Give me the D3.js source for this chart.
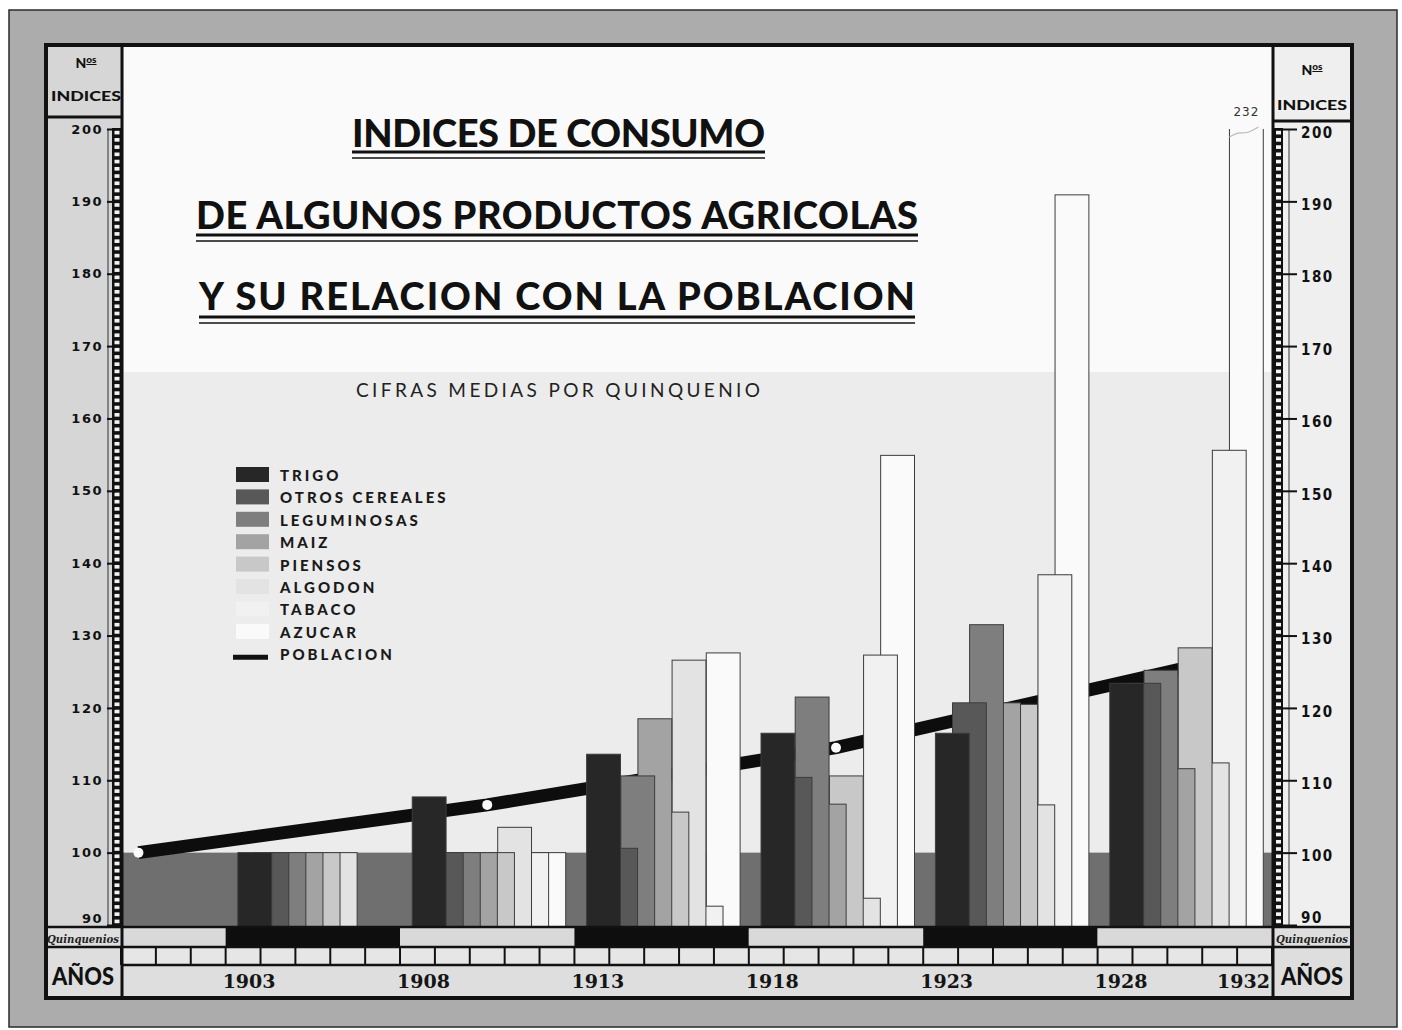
<!DOCTYPE html>
<html>
<head>
<meta charset="utf-8">
<script src="https://cdn.jsdelivr.net/npm/d3@7"></script>
<style>
  body { margin: 0; background: #fff; }
  svg { display: block; }
</style>
</head>
<body>
<svg id="chart" width="1402" height="1030"></svg>
<script>
// ---- Data: consumption indices, five-year averages (base = 100) ----
const products = ["TRIGO", "OTROS CEREALES", "LEGUMINOSAS", "MAIZ", "PIENSOS", "ALGODON", "TABACO", "AZUCAR"];
const quinquenios = [1903, 1908, 1913, 1918, 1923, 1928];
const trigo         = [100, 107.7, 113.6, 116.5, 116.5, 123.4];
const otrosCereales = [100, 100,   100.6, 110.4, 120.7, 123.4];
const leguminosas   = [100, 100,   110.6, 121.5, 131.5, 125.2];
const maiz          = [100, 100,   118.5, 106.7, 120.7, 111.6];
const piensos       = [100, 100,   105.6, 110.6, 120.5, 128.3];
const algodon       = [100, 103.5, 126.6,  93.7, 106.6, 112.4];
const tabaco        = [null, 100,   92.6, 127.3, 138.4, 155.6];
const azucar        = [null, 100,  127.6, 154.9, 190.9, 232];
// Population index at the census years
const censusYears = [1900, 1910, 1920, 1930];
const poblacion   = [100, 106.6, 114.5, 125.5];
const yTicks = [90, 100, 110, 120, 130, 140, 150, 160, 170, 180, 190, 200];
const yearLabels = ["1903", "1908", "1913", "1918", "1923", "1928", "1932"];
const titleLines = ["INDICES DE CONSUMO", "DE ALGUNOS PRODUCTOS AGRICOLAS", "Y SU RELACION CON LA POBLACION"];
const subtitle = "CIFRAS MEDIAS POR QUINQUENIO";

// ---- Styling ----
const productFill = ["#272727", "#585858", "#7e7e7e", "#a3a3a3", "#c8c8c8", "#e3e3e3", "#f1f1f1", "#fafafa"];
const series = [trigo, otrosCereales, leguminosas, maiz, piensos, algodon, tabaco, azucar];
const decoFont = "Lato, 'Open Sans', sans-serif";

const svg = d3.select("#chart");
const W = 1402, H = 1030;
const board = { l: 46, t: 45, r: 1352, b: 998 };
const rowQ = { t: 927, b: 947 }, rowY = { t: 947, b: 965 };

const x = d3.scaleLinear().domain([1900, 1933]).range([121, 1272]);
const y = d3.scaleLinear().domain([90, 200]).range([925, 129]);

// ---- Mat and board ----
svg.append("rect").attr("width", W).attr("height", H).attr("fill", "#fff");
svg.append("rect").attr("x", 9).attr("y", 10).attr("width", 1388).attr("height", 1017)
  .attr("fill", "#acacac").attr("stroke", "#2a2a2a").attr("stroke-width", 1.5);
svg.append("rect").attr("x", board.l).attr("y", board.t)
  .attr("width", board.r - board.l).attr("height", board.b - board.t).attr("fill", "#ececec");
svg.append("rect").attr("x", 124).attr("y", board.t).attr("width", 1148).attr("height", 327).attr("fill", "#fafafa");
svg.append("rect").attr("x", board.l).attr("y", board.t).attr("width", 76).attr("height", rowQ.t - board.t).attr("fill", "#d6d6d6");
svg.append("rect").attr("x", 1273).attr("y", board.t).attr("width", board.r - 1273).attr("height", rowQ.t - board.t).attr("fill", "#efefef");

// ---- Title block ----
const titleGeom = [
  { x0: 352, x1: 765, base: 147, u: 152 },
  { x0: 196, x1: 918, base: 229, u: 235 },
  { x0: 199, x1: 915, base: 310, u: 317 }
];
titleLines.forEach((t, i) => {
  const g = titleGeom[i];
  svg.append("text").attr("x", g.x0).attr("y", g.base)
    .attr("textLength", g.x1 - g.x0).attr("lengthAdjust", "spacing")
    .attr("font-family", decoFont).attr("font-weight", 900).attr("font-size", 38)
    .attr("fill", "#111").text(t);
  svg.append("line").attr("x1", g.x0).attr("x2", g.x1).attr("y1", g.u).attr("y2", g.u)
    .attr("stroke", "#111").attr("stroke-width", 3);
  svg.append("line").attr("x1", g.x0).attr("x2", g.x1).attr("y1", g.u + 6).attr("y2", g.u + 6)
    .attr("stroke", "#111").attr("stroke-width", 1.5);
});
svg.append("text").attr("x", 356).attr("y", 397)
  .attr("textLength", 404).attr("lengthAdjust", "spacing")
  .attr("font-family", decoFont).attr("font-weight", 400).attr("font-size", 19)
  .attr("fill", "#222").text(subtitle);

// ---- Plot marks ----
const clipId = "plotClip";
svg.append("clipPath").attr("id", clipId).append("rect")
  .attr("x", x(1900)).attr("y", y(200)).attr("width", x(1933) - x(1900)).attr("height", y(90) - y(200) + 2);
const plot = svg.append("g").attr("clip-path", `url(#${clipId})`);

// base-100 band running under all groups
plot.append("rect").attr("x", x(1900)).attr("width", x(1933) - x(1900))
  .attr("y", y(100)).attr("height", y(90) - y(100) + 2).attr("fill", "#6f6f6f");

// population line with census dots
const popPts = censusYears.map((yr, i) => [x(yr + 0.5), y(poblacion[i])]);
plot.append("path").attr("d", d3.line()(popPts))
  .attr("fill", "none").attr("stroke", "#0d0d0d").attr("stroke-width", 13);
plot.selectAll("circle.census").data(popPts).join("circle").attr("class", "census")
  .attr("cx", d => d[0]).attr("cy", d => d[1]).attr("r", 5).attr("fill", "#fafafa");

// staggered bars: each one year wide, half a year apart, earlier products in front
const barStart = 0.35, barStep = 0.49, barWidth = 0.97;
const bars = [];
quinquenios.forEach((q, qi) => {
  series.forEach((s, pi) => { if (s[qi] != null) bars.push({ q, pi, v: s[qi] }); });
});
bars.sort((a, b) => b.pi - a.pi);
plot.selectAll("rect.bar").data(bars).join("rect").attr("class", "bar")
  .attr("x", d => x(d.q + barStart + d.pi * barStep))
  .attr("width", d => x(d.q + barWidth) - x(d.q))
  .attr("y", d => y(d.v))
  .attr("height", d => y(90) - y(d.v) + 2)
  .attr("fill", d => productFill[d.pi])
  .attr("stroke", "#3c3c3c").attr("stroke-width", 1);

// values beyond the scale: label above the top
const over = bars.filter(d => d.v > 200);
over.forEach(d => {
  const cx = x(d.q + barStart + d.pi * barStep) + (x(d.q + barWidth) - x(d.q)) / 2;
  svg.append("text").attr("x", cx).attr("y", y(200) - 13).attr("text-anchor", "middle")
    .attr("font-family", "'DejaVu Sans', sans-serif").attr("font-size", 12).attr("letter-spacing", 1)
    .attr("fill", "#333").text(d3.format("d")(d.v));
  svg.append("path")
    .attr("d", d3.line().curve(d3.curveBasis)([[cx - 17, y(200) + 8], [cx - 8, y(200) + 3], [cx, y(200) + 5], [cx + 12, y(200) - 2]]))
    .attr("fill", "none").attr("stroke", "#bbb").attr("stroke-width", 1.2);
});

// ---- Legend ----
const legend = svg.append("g").attr("transform", "translate(236,475)");
const legendItems = products.map((p, i) => ({ name: p, i })).concat([{ name: "POBLACION", i: products.length }]);
const lg = legend.selectAll("g").data(legendItems).join("g")
  .attr("transform", d => `translate(0,${d.i * 22.4})`);
lg.filter(d => d.i < products.length).append("rect")
  .attr("x", 0).attr("y", -8).attr("width", 33).attr("height", 15)
  .attr("fill", d => productFill[d.i]);
lg.filter(d => d.i === products.length).append("line")
  .attr("x1", -3).attr("x2", 32).attr("y1", 3).attr("y2", 3)
  .attr("stroke", "#111").attr("stroke-width", 5);
lg.append("text").attr("x", 44).attr("y", 6)
  .attr("font-family", decoFont).attr("font-weight", 900).attr("font-size", 15)
  .attr("letter-spacing", 3).attr("fill", "#1a1a1a").text(d => d.name);

// ---- Bottom: quinquenios and years ----
const segStarts = [1900].concat(quinquenios);
const segs = segStarts.map((s, i) => ({ s, e: i < segStarts.length - 1 ? segStarts[i + 1] : 1933, dark: i % 2 === 1 }));
svg.append("rect").attr("x", board.l).attr("y", rowQ.t).attr("width", board.r - board.l).attr("height", board.b - rowQ.t).attr("fill", "#dedede");
svg.selectAll("rect.seg").data(segs).join("rect").attr("class", "seg")
  .attr("x", d => x(d.s)).attr("width", d => x(d.e) - x(d.s))
  .attr("y", rowQ.t).attr("height", rowQ.b - rowQ.t)
  .attr("fill", d => d.dark ? "#0e0e0e" : "#d9d9d9");
svg.append("rect").attr("x", x(1900)).attr("y", rowY.t).attr("width", x(1933) - x(1900)).attr("height", rowY.b - rowY.t).attr("fill", "#e6e6e6");
svg.selectAll("line.yr").data(d3.range(1900, 1934)).join("line").attr("class", "yr")
  .attr("x1", d => x(d)).attr("x2", d => x(d)).attr("y1", rowY.t).attr("y2", rowY.b)
  .attr("stroke", "#111").attr("stroke-width", 2);
[[board.l, board.r, rowQ.t], [board.l, board.r, rowY.t], [x(1900), x(1933), rowY.b]].forEach(([a, b, yy]) =>
  svg.append("line").attr("x1", a).attr("x2", b).attr("y1", yy).attr("y2", yy).attr("stroke", "#111").attr("stroke-width", 2.5));
[122, 1273].forEach(xx =>
  svg.append("line").attr("x1", xx).attr("x2", xx).attr("y1", board.t).attr("y2", board.b).attr("stroke", "#111").attr("stroke-width", 3));

svg.selectAll("text.year").data(yearLabels).join("text").attr("class", "year")
  .attr("x", d => (+d === 1932 ? x(1933) - 2 : x(+d) - 3))
  .attr("text-anchor", d => (+d === 1932 ? "end" : "start"))
  .attr("y", 988)
  .attr("font-family", "'DejaVu Serif', 'Liberation Serif', serif").attr("font-weight", 700).attr("font-size", 19)
  .attr("fill", "#151515").text(d => d);

[[83], [1312]].forEach(([cx]) => {
  svg.append("text").attr("x", cx).attr("y", 943).attr("text-anchor", "middle")
    .attr("textLength", 72).attr("lengthAdjust", "spacingAndGlyphs")
    .attr("font-family", "'DejaVu Serif', serif").attr("font-style", "italic").attr("font-weight", 700)
    .attr("font-size", 11).attr("fill", "#222").text("Quinquenios");
  svg.append("text").attr("x", cx).attr("y", 985).attr("text-anchor", "middle")
    .attr("textLength", 62).attr("lengthAdjust", "spacingAndGlyphs")
    .attr("font-family", decoFont).attr("font-weight", 900).attr("font-size", 25)
    .attr("fill", "#111").text("AÑOS");
});

// ---- Left ruler and axis ----
svg.append("line").attr("x1", 108).attr("x2", 108).attr("y1", y(200)).attr("y2", y(90))
  .attr("stroke", "#333").attr("stroke-width", 1);
svg.append("rect").attr("x", 112).attr("y", y(200) - 1).attr("width", 10).attr("height", y(90) - y(200) + 2).attr("fill", "#111");
svg.selectAll("rect.winL").data(d3.range(90, 200)).join("rect").attr("class", "winL")
  .attr("x", 114.5).attr("width", 5)
  .attr("y", d => y(d + 1) + 1.8).attr("height", d => y(d) - y(d + 1) - 3.6).attr("fill", "#f2f2f2");
svg.append("g").attr("transform", "translate(116,0)")
  .call(d3.axisLeft(y).tickValues(yTicks).tickSize(9).tickPadding(4))
  .call(g => g.select(".domain").remove())
  .call(g => g.selectAll("line").attr("stroke", "#111").attr("stroke-width", 2))
  .call(g => g.selectAll("text").attr("font-family", "'DejaVu Sans', sans-serif").attr("font-weight", 700)
    .attr("font-size", 13).attr("letter-spacing", 1.5).attr("fill", "#111")
    .attr("dy", d => (d === 90 ? "-0.2em" : "0.32em")));

// ---- Right ruler and axis ----
svg.append("rect").attr("x", 1273).attr("y", y(200) - 1).attr("width", 10).attr("height", y(90) - y(200) + 2).attr("fill", "#111");
svg.selectAll("rect.winR").data(d3.range(90, 200)).join("rect").attr("class", "winR")
  .attr("x", 1276).attr("width", 5)
  .attr("y", d => y(d + 1) + 1.8).attr("height", d => y(d) - y(d + 1) - 3.6).attr("fill", "#f4f4f4");
svg.append("line").attr("x1", 1289).attr("x2", 1289).attr("y1", y(200)).attr("y2", y(90))
  .attr("stroke", "#333").attr("stroke-width", 1);
svg.append("g").attr("transform", "translate(1283,0)")
  .call(d3.axisRight(y).tickValues(yTicks).tickSize(14).tickPadding(4))
  .call(g => g.select(".domain").remove())
  .call(g => g.selectAll("line").attr("stroke", "#111").attr("stroke-width", 2))
  .call(g => g.selectAll("text").attr("font-family", "'Liberation Sans Narrow', 'DejaVu Sans Condensed', 'Roboto Condensed', sans-serif")
    .attr("font-weight", 700).attr("font-size", 15).attr("letter-spacing", 1.5).attr("fill", "#111")
    .attr("dy", d => (d === 90 ? "-0.2em" : "0.55em")));

// ---- Column headers ----
function header(cx, y1, y2) {
  const t = svg.append("text").attr("x", cx).attr("y", y1).attr("text-anchor", "middle")
    .attr("font-family", decoFont).attr("font-weight", 900).attr("font-size", 14).attr("fill", "#111");
  t.append("tspan").text("N");
  t.append("tspan").attr("dy", -5).attr("font-size", 10).attr("text-decoration", "underline").text("os");
  svg.append("text").attr("x", cx).attr("y", y2).attr("text-anchor", "middle")
    .attr("textLength", 70).attr("lengthAdjust", "spacingAndGlyphs")
    .attr("font-family", decoFont).attr("font-weight", 900).attr("font-size", 14).attr("fill", "#111").text("INDICES");
}
header(86, 68, 101);
header(1312, 75, 110);
svg.append("line").attr("x1", board.l).attr("x2", 122).attr("y1", 117).attr("y2", 117).attr("stroke", "#111").attr("stroke-width", 3);
svg.append("line").attr("x1", 1273).attr("x2", board.r).attr("y1", 121).attr("y2", 121).attr("stroke", "#111").attr("stroke-width", 3);

// board outline
svg.append("rect").attr("x", board.l).attr("y", board.t).attr("width", board.r - board.l).attr("height", board.b - board.t)
  .attr("fill", "none").attr("stroke", "#111").attr("stroke-width", 4);
</script>
</body>
</html>
